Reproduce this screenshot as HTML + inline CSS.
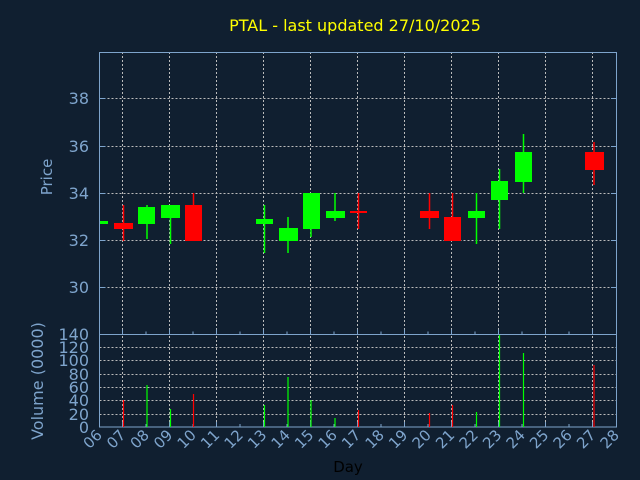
<!DOCTYPE html>
<html><head><meta charset="utf-8"><style>
html,body{margin:0;padding:0;background:#0f1e2e;}
svg{display:block;font-family:"DejaVu Sans","Liberation Sans",sans-serif;}
</style></head><body>
<svg width="640" height="480" viewBox="0 0 640 480" xmlns="http://www.w3.org/2000/svg">
<rect width="640" height="480" fill="#101f30"/>
<text x="355" y="31" fill="#ffff00" font-size="16" text-anchor="middle">PTAL - last updated 27/10/2025</text>
<g stroke="#bbbbbb" stroke-width="1" stroke-dasharray="2,2" fill="none">
<path d="M99.5 98.5H617M99.5 146.5H617M99.5 193.5H617M99.5 240.5H617M99.5 287.5H617"/>
<path d="M99.5 347.5H617M99.5 360.5H617M99.5 374.5H617M99.5 387.5H617M99.5 400.5H617M99.5 414.5H617"/>
<path d="M122.5 52V427M169.5 52V427M216.5 52V427M263.5 52V427M310.5 52V427M357.5 52V427M404.5 52V427M451.5 52V427M498.5 52V427M545.5 52V427M592.5 52V427"/>
</g>
<g stroke="#7ea4cc" stroke-width="1" fill="none">
<rect x="99.5" y="52.5" width="517" height="374.5"/>
<path d="M99.5 334.5H617"/>
<path d="M99.5 98.5h6M99.5 146.5h6M99.5 193.5h6M99.5 240.5h6M99.5 287.5h6M617 98.5h-6M617 146.5h-6M617 193.5h-6M617 240.5h-6M617 287.5h-6"/>
<path d="M122.5 427v-5M146 427v-3M169.5 427v-5M193 427v-3M216.5 427v-5M240 427v-3M263.5 427v-5M287 427v-3M310.5 427v-5M334 427v-3M357.5 427v-5M381 427v-3M404.5 427v-5M428 427v-3M451.5 427v-5M475 427v-3M498.5 427v-5M522 427v-3M545.5 427v-5M569 427v-3M592.5 427v-5"/>
<path d="M122.5 334.5v-5M146 334.5v-3M169.5 334.5v-5M193 334.5v-3M216.5 334.5v-5M240 334.5v-3M263.5 334.5v-5M287 334.5v-3M310.5 334.5v-5M334 334.5v-3M357.5 334.5v-5M381 334.5v-3M404.5 334.5v-5M428 334.5v-3M451.5 334.5v-5M475 334.5v-3M498.5 334.5v-5M522 334.5v-3M545.5 334.5v-5M569 334.5v-3M592.5 334.5v-5"/>
</g>
<g fill="#7ea4cc" font-size="16" text-anchor="end">
<text x="89" y="104">38</text><text x="89" y="152">36</text><text x="89" y="199">34</text><text x="89" y="246">32</text><text x="89" y="293">30</text>
</g>
<g fill="#7ea4cc" font-size="16" text-anchor="end">
<text x="89" y="340">140</text><text x="89" y="353">120</text><text x="89" y="366">100</text><text x="89" y="380">80</text><text x="89" y="393">60</text><text x="89" y="406">40</text><text x="89" y="420">20</text><text x="89" y="433">0</text>
</g>
<text transform="translate(52,177) rotate(-90)" fill="#7ea4cc" font-size="15" text-anchor="middle">Price</text>
<text transform="translate(43,381) rotate(-90)" fill="#7ea4cc" font-size="16" text-anchor="middle">Volume (0000)</text>
<text x="348" y="472" fill="#000" font-size="15" text-anchor="middle">Day</text>
<g fill="#7ea4cc" font-size="15" text-anchor="end">
<text transform="translate(103,436) rotate(-45)">06</text>
<text transform="translate(126.5,436) rotate(-45)">07</text>
<text transform="translate(150,436) rotate(-45)">08</text>
<text transform="translate(173.5,436) rotate(-45)">09</text>
<text transform="translate(197,436) rotate(-45)">10</text>
<text transform="translate(220.5,436) rotate(-45)">11</text>
<text transform="translate(244,436) rotate(-45)">12</text>
<text transform="translate(267.5,436) rotate(-45)">13</text>
<text transform="translate(291,436) rotate(-45)">14</text>
<text transform="translate(314.5,436) rotate(-45)">15</text>
<text transform="translate(338,436) rotate(-45)">16</text>
<text transform="translate(361.5,436) rotate(-45)">17</text>
<text transform="translate(385,436) rotate(-45)">18</text>
<text transform="translate(408.5,436) rotate(-45)">19</text>
<text transform="translate(432,436) rotate(-45)">20</text>
<text transform="translate(455.5,436) rotate(-45)">21</text>
<text transform="translate(479,436) rotate(-45)">22</text>
<text transform="translate(502.5,436) rotate(-45)">23</text>
<text transform="translate(526,436) rotate(-45)">24</text>
<text transform="translate(549.5,436) rotate(-45)">25</text>
<text transform="translate(573,436) rotate(-45)">26</text>
<text transform="translate(596.5,436) rotate(-45)">27</text>
<text transform="translate(620,436) rotate(-45)">28</text>
</g>
<g stroke-width="1.5">
<rect x="100" y="221" width="8" height="3" fill="#00ff00"/>
<line x1="123.5" y1="205" x2="123.5" y2="241" stroke="#ff0000"/><rect x="114" y="223" width="19" height="6" fill="#ff0000"/>
<line x1="147" y1="205" x2="147" y2="239" stroke="#00ff00"/><rect x="138" y="207" width="17" height="17" fill="#00ff00"/>
<line x1="170.5" y1="205" x2="170.5" y2="244" stroke="#00ff00"/><rect x="161" y="205" width="19" height="13" fill="#00ff00"/>
<line x1="193.5" y1="193" x2="193.5" y2="241" stroke="#ff0000"/><rect x="185" y="205" width="17" height="36" fill="#ff0000"/>
<line x1="264.5" y1="205" x2="264.5" y2="253" stroke="#00ff00"/><rect x="256" y="219" width="17" height="5" fill="#00ff00"/>
<line x1="288" y1="217" x2="288" y2="253" stroke="#00ff00"/><rect x="279" y="228" width="19" height="13" fill="#00ff00"/>
<line x1="311" y1="193" x2="311" y2="237" stroke="#00ff00"/><rect x="303" y="193" width="17" height="36" fill="#00ff00"/>
<line x1="335" y1="193" x2="335" y2="221" stroke="#00ff00"/><rect x="326" y="211" width="19" height="7" fill="#00ff00"/>
<line x1="358.5" y1="193" x2="358.5" y2="229" stroke="#ff0000"/><rect x="350" y="211" width="17" height="2" fill="#ff0000"/>
<line x1="429.5" y1="193" x2="429.5" y2="229" stroke="#ff0000"/><rect x="420" y="211" width="19" height="7" fill="#ff0000"/>
<line x1="452.5" y1="193" x2="452.5" y2="241" stroke="#ff0000"/><rect x="444" y="217" width="17" height="24" fill="#ff0000"/>
<line x1="476.5" y1="193" x2="476.5" y2="244" stroke="#00ff00"/><rect x="468" y="211" width="17" height="7" fill="#00ff00"/>
<line x1="499.5" y1="169" x2="499.5" y2="229" stroke="#00ff00"/><rect x="491" y="181" width="17" height="19" fill="#00ff00"/>
<line x1="523.5" y1="134" x2="523.5" y2="193" stroke="#00ff00"/><rect x="515" y="152" width="17" height="30" fill="#00ff00"/>
<line x1="594" y1="142" x2="594" y2="185" stroke="#ff0000"/><rect x="585" y="152" width="19" height="18" fill="#ff0000"/>
</g>
<g stroke-width="1.2">
<line x1="123.5" y1="427" x2="123.5" y2="400" stroke="#ff0000"/>
<line x1="147" y1="427" x2="147" y2="385" stroke="#00ff00"/>
<line x1="170.5" y1="427" x2="170.5" y2="409" stroke="#00ff00"/>
<line x1="193.5" y1="427" x2="193.5" y2="394" stroke="#ff0000"/>
<line x1="264.5" y1="427" x2="264.5" y2="405" stroke="#00ff00"/>
<line x1="288" y1="427" x2="288" y2="377" stroke="#00ff00"/>
<line x1="311" y1="427" x2="311" y2="400" stroke="#00ff00"/>
<line x1="335" y1="427" x2="335" y2="418" stroke="#00ff00"/>
<line x1="358.5" y1="427" x2="358.5" y2="410" stroke="#ff0000"/>
<line x1="429.5" y1="427" x2="429.5" y2="413" stroke="#ff0000"/>
<line x1="452.5" y1="427" x2="452.5" y2="405" stroke="#ff0000"/>
<line x1="476.5" y1="427" x2="476.5" y2="412" stroke="#00ff00"/>
<line x1="499.5" y1="427" x2="499.5" y2="335" stroke="#00ff00"/>
<line x1="523.5" y1="427" x2="523.5" y2="353" stroke="#00ff00"/>
<line x1="594" y1="427" x2="594" y2="365" stroke="#ff0000"/>
</g>
</svg>
</body></html>
